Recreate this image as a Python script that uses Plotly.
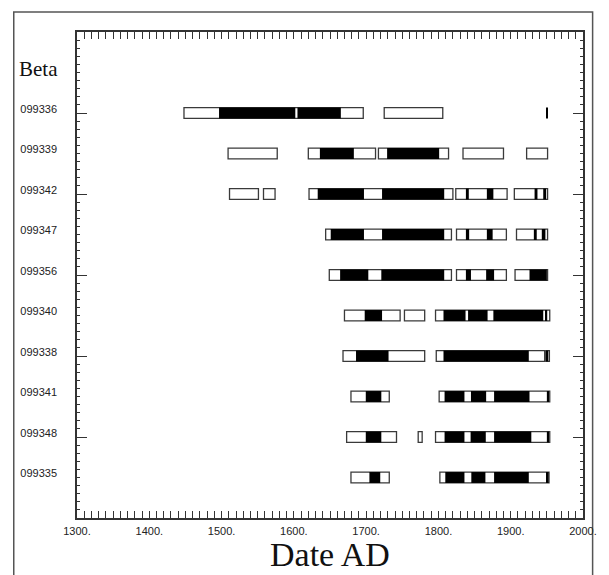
import plotly.graph_objects as go

# ---- data -------------------------------------------------------------
sample_ids = ["099336", "099339", "099342", "099347", "099356",
              "099340", "099338", "099341", "099348", "099335"]

# 2-sigma calibrated ranges (open boxes): (sample, start AD, end AD)
range_2sigma = [
    ("099336", 1448, 1696), ("099336", 1725, 1806),
    ("099339", 1509, 1577), ("099339", 1620, 1713), ("099339", 1717, 1814),
    ("099339", 1834, 1890), ("099339", 1922, 1951),
    ("099342", 1511, 1551), ("099342", 1558, 1574), ("099342", 1621, 1820),
    ("099342", 1824, 1895), ("099342", 1905, 1951),
    ("099347", 1644, 1818), ("099347", 1825, 1894), ("099347", 1908, 1951),
    ("099356", 1649, 1818), ("099356", 1825, 1894), ("099356", 1906, 1951),
    ("099340", 1670, 1747), ("099340", 1753, 1781), ("099340", 1796, 1954),
    ("099338", 1668, 1781), ("099338", 1797, 1947), ("099338", 1948.5, 1953.5),
    ("099341", 1679, 1732), ("099341", 1801, 1954),
    ("099348", 1673, 1742), ("099348", 1772, 1777.5), ("099348", 1796, 1954),
    ("099335", 1679, 1732), ("099335", 1802, 1953),
]

# 1-sigma calibrated ranges (filled boxes)
range_1sigma = [
    ("099336", 1496.5, 1602), ("099336", 1605, 1665), ("099336", 1949, 1951),
    ("099339", 1636, 1683), ("099339", 1729, 1801),
    ("099342", 1633, 1697), ("099342", 1722, 1808), ("099342", 1838, 1842),
    ("099342", 1867, 1876), ("099342", 1933, 1937), ("099342", 1945, 1949),
    ("099347", 1651, 1697), ("099347", 1722, 1808), ("099347", 1838, 1842.5),
    ("099347", 1867, 1875), ("099347", 1932, 1936), ("099347", 1943, 1948),
    ("099356", 1664, 1703), ("099356", 1721, 1808), ("099356", 1838, 1845),
    ("099356", 1866, 1877), ("099356", 1926, 1950),
    ("099340", 1698, 1722), ("099340", 1807, 1837.5), ("099340", 1841, 1868),
    ("099340", 1876, 1945), ("099340", 1948, 1950.5),
    ("099338", 1686, 1731), ("099338", 1807, 1925), ("099338", 1950, 1952),
    ("099341", 1699.5, 1721), ("099341", 1808.5, 1836), ("099341", 1845, 1866),
    ("099341", 1877, 1926), ("099341", 1950, 1953),
    ("099348", 1699.5, 1721), ("099348", 1808.5, 1836), ("099348", 1844.5, 1865.5),
    ("099348", 1877, 1928.5), ("099348", 1950, 1953),
    ("099335", 1704.5, 1719.5), ("099335", 1809.5, 1836), ("099335", 1845.5, 1865),
    ("099335", 1877, 1925), ("099335", 1950, 1952.5),
]

x_ticks = [1300, 1400, 1500, 1600, 1700, 1800, 1900, 2000]
x_tick_labels = ["1300.", "1400.", "1500.", "1600.", "1700.", "1800.", "1900.", "2000."]

# ---- figure -----------------------------------------------------------
row_of = {s: i for i, s in enumerate(sample_ids)}
BAR_W = 0.27
EDGE = "#3a3a3a"


def bar_trace(ranges, fill, line_w):
    return go.Bar(
        orientation="h",
        y=[row_of[s] for s, a, b in ranges],
        base=[a for s, a, b in ranges],
        x=[b - a for s, a, b in ranges],
        width=BAR_W,
        marker=dict(color=fill, line=dict(color=EDGE if line_w else fill, width=line_w)),
        showlegend=False,
        hoverinfo="skip",
    )


fig = go.Figure()
fig.add_trace(bar_trace(range_2sigma, "white", 1.3))
fig.add_trace(bar_trace(range_1sigma, "black", 0))
# invisible trace to anchor the tick-only overlay axis
fig.add_trace(go.Scatter(x=[1300], y=[0], yaxis="y2", mode="markers",
                         marker=dict(opacity=0), showlegend=False, hoverinfo="skip"))

tick_font = dict(family="Liberation Sans, Arial, sans-serif", size=11, color="#222")

# page body adds an 8px offset, so the figure is 8px smaller than the window
fig.update_layout(
    width=601, height=567,
    margin=dict(l=66, r=15, t=24, b=57),
    paper_bgcolor="white", plot_bgcolor="white",
    barmode="overlay",
    xaxis=dict(
        range=[1300, 2000],
        tickmode="array", tickvals=x_ticks, ticktext=x_tick_labels,
        ticks="inside", ticklen=7, tickwidth=1.2, tickcolor="#333",
        showline=True, linecolor="#333", linewidth=1.5, mirror="allticks",
        showgrid=False, zeroline=False,
        tickfont=tick_font, ticklabelstandoff=2,
        minor=dict(ticks="inside", dtick=10, tick0=1300, ticklen=3,
                   tickwidth=1, tickcolor="#333", showgrid=False),
    ),
    yaxis=dict(
        range=[10, -2],
        tickmode="array", tickvals=list(range(len(sample_ids))), ticktext=sample_ids,
        ticks="", showline=True, linecolor="#333", linewidth=1.5, mirror=True,
        showgrid=False, zeroline=False,
        tickfont=tick_font, ticklabelstandoff=16, ticklabelshift=4,
    ),
    yaxis2=dict(
        overlaying="y", matches="y", range=[10, -2],
        tickmode="linear", tick0=0, dtick=2,
        ticks="inside", ticklen=10, tickwidth=1.2, tickcolor="#333",
        showticklabels=False, showline=True, linecolor="#333", linewidth=1.5,
        mirror="allticks", showgrid=False, zeroline=False,
        minor=dict(ticks="inside", dtick=0.2, tick0=0, ticklen=3,
                   tickwidth=1, tickcolor="#333", showgrid=False),
    ),
    shapes=[dict(type="rect", xref="paper", yref="paper",
                 x0=-0.125, x1=1.019, y0=-0.14, y1=1.041,
                 line=dict(color="#555", width=1.5), fillcolor="rgba(0,0,0,0)",
                 layer="below")],
    annotations=[
        dict(text="Beta", xref="paper", yref="paper", x=-0.077, y=0.924,
             showarrow=False, xanchor="center", yanchor="middle",
             font=dict(family="Liberation Serif, Times New Roman, serif", size=21, color="#111")),
        dict(text="Date AD", xref="paper", yref="paper", x=0.5, y=-0.075,
             showarrow=False, xanchor="center", yanchor="middle",
             font=dict(family="Liberation Serif, Times New Roman, serif", size=34, color="#111")),
    ],
)

fig.write_html("out.html")
